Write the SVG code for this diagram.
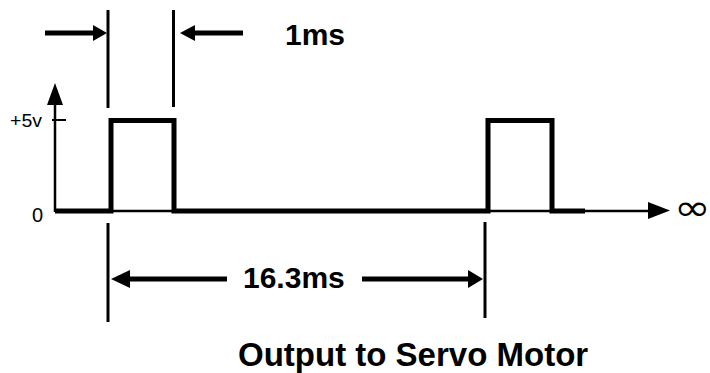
<svg xmlns="http://www.w3.org/2000/svg" width="710" height="373" viewBox="0 0 710 373">
<style>
.thick{fill:none;stroke:#000;stroke-width:5;stroke-linejoin:miter;stroke-linecap:butt}
.thin{fill:none;stroke:#000;stroke-width:2.5}
.dim{fill:none;stroke:#000;stroke-width:3}
.shaft{fill:none;stroke:#000;stroke-width:5}
.head{fill:#000;stroke:none}
.big{font-family:"Liberation Sans",Arial,sans-serif;font-weight:bold;fill:#000}
.small{font-family:"Liberation Sans",Arial,sans-serif;fill:#000}
</style>
<rect width="710" height="373" fill="#fff"/>
<g id="axes">
<line class="thin" x1="55" y1="211" x2="650" y2="211"/>
<polygon class="head" points="648,202 670,210.5 648,219"/>
<line class="thin" x1="55" y1="212" x2="55" y2="103"/>
<polygon class="head" points="55,83 47,105 63,105"/>
<line x1="52" y1="120" x2="66" y2="120" stroke="#000" stroke-width="2"/>
<text class="small" x="10" y="127" font-size="19" textLength="32" lengthAdjust="spacingAndGlyphs">+5v</text>
<text class="small" x="32" y="222" font-size="20">0</text>
<text transform="translate(674,220) scale(1.1,0.9)" font-family="DejaVu Sans,sans-serif" font-size="40" fill="#000">∞</text>
</g>
<g id="signal">
<path class="thick" d="M55,211 H111 V120.5 H174 V211 H488 V120.5 H552 V211 H585"/>
</g>
<g id="connectors">
<line class="dim" x1="108" y1="10" x2="108" y2="108"/>
<line class="dim" x1="173.5" y1="10" x2="173.5" y2="107"/>
<line class="dim" x1="108" y1="223" x2="108" y2="322"/>
<line class="dim" x1="485" y1="222" x2="485" y2="318"/>
<line class="shaft" x1="45" y1="33" x2="94" y2="33"/>
<polygon class="head" points="93,25 107,33 93,41"/>
<line class="shaft" x1="194" y1="33" x2="243" y2="33"/>
<polygon class="head" points="180,33 195,25 195,41"/>
<line class="shaft" x1="129" y1="279" x2="227" y2="279"/>
<polygon class="head" points="111,279 130,270 130,288"/>
<line class="shaft" x1="362" y1="279" x2="469" y2="279"/>
<polygon class="head" points="468,270 483,279 468,288"/>
</g>
<g id="labels">
<text class="big" x="285" y="45" font-size="30">1ms</text>
<text class="big" x="243" y="288" font-size="30">16.3ms</text>
<text class="big" x="238" y="366" font-size="33">Output to Servo Motor</text>
</g>
</svg>
